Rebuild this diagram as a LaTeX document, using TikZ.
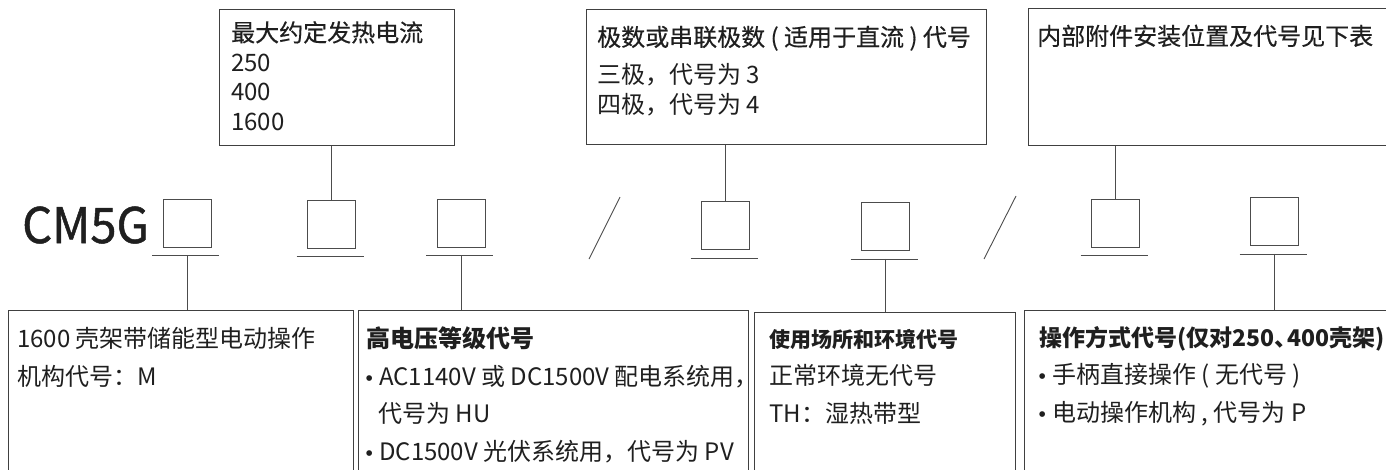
\documentclass[tikz,border=0pt]{standalone}
\usepackage{fontspec}
\setmainfont{Noto Sans CJK SC}
\newfontfamily\headfont{Noto Sans CJK SC}[FakeBold=0.4]
\newfontfamily\modelfont{Noto Sans CJK SC}[FakeStretch=0.96, FakeBold=1]
\newfontfamily\bulletfont{Liberation Sans}
\newcommand{\topfont}{\fontsize{24}{29.5}\selectfont}
\newcommand{\lowfont}{\fontsize{24}{37.5}\selectfont}
\newcommand{\dotitem}{\makebox[6pt][c]{\bulletfont\fontsize{21}{0}\selectfont•}\hspace{7pt}}

\tikzset{
  frame/.style={draw=black!75, line width=0.9pt, inner sep=0pt, anchor=north west},
  slot/.style={draw=black!70, line width=0.9pt, minimum width=48pt, minimum height=48pt, inner sep=0pt},
  txt/.style={inner sep=0pt, anchor=base west, align=left, text=black!88},
  link/.style={draw=black!70, line width=0.9pt},
}

\begin{document}
\begin{tikzpicture}[x=1pt,y=-1pt]
  \useasboundingbox (0,0) rectangle (1386,469);
  \clip (0,0) rectangle (1386,469);

  % upper boxes (text nodes sit on the baseline of their last line)
  \node[frame, minimum width=235, minimum height=136] (rated) at (219,9) {};
  \node[frame, minimum width=400, minimum height=135] (poles) at (586,9) {};
  \node[frame, minimum width=370, minimum height=137] (inner) at (1028,8) {};
  \node[txt, font=\topfont] (ratedtxt) at (231,130) {{\headfont 最大约定发热电流}\\250\\400\\1600};
  \node[txt, font=\topfont] (polestxt) at (597,113) {{\headfont 极数或串联极数 ( 适用于直流 ) 代号}\\[8pt]三极，代号为 3\\四极，代号为 4};
  \node[txt, font=\topfont] (innertxt) at (1037,45) {{\headfont 内部附件安装位置及代号见下表}};

  % model code
  \node[inner sep=0pt, anchor=base west, text=black!88, font=\modelfont\fontsize{49}{49}\selectfont] (model) at (22,243) {CM5G};
  \node[slot] (s1) at (187,223) {};
  \node[slot] (s2) at (331.5,224) {};
  \node[slot] (s3) at (461,223) {};
  \node[slot] (s4) at (725.5,225.5) {};
  \node[slot] (s5) at (885.5,226.5) {};
  \node[slot] (s6) at (1115.5,223) {};
  \node[slot] (s7) at (1274.5,221.5) {};
  \foreach \i in {1,...,7}{
    \coordinate (u\i) at ([yshift=-8pt]s\i.south);
    \draw[link] ([xshift=-35pt]u\i) -- ([xshift=32pt]u\i);
  }
  \draw[link] (620,197) -- (589,259);
  \draw[link] (1016,196) -- (984,259);

  % lower boxes
  \node[frame, minimum width=345, minimum height=200] (motor) at (8,310) {};
  \node[frame, minimum width=390, minimum height=200] (volt) at (358,310) {};
  \node[frame, minimum width=261, minimum height=200] (env) at (754,312) {};
  \node[frame, minimum width=380, minimum height=200] (oper) at (1024,310) {};
  \node[txt, font=\lowfont] (motortxt) at (17,385) {1600 壳架带储能型电动操作\\机构代号：M};
  \node[txt, font=\lowfont] (volttxt) at (366,460) {\textbf{高电压等级代号}\\\dotitem AC1140V 或 DC1500V 配电系统用，\\\hspace{12pt}代号为 HU\\\dotitem DC1500V 光伏系统用，代号为 PV};
  \node[txt, font=\lowfont] (envtxt) at (769,422) {{\fontsize{21}{37.5}\selectfont\bfseries 使用场所和环境代号}\\正常环境无代号\\TH：湿热带型};
  \node[txt, font=\lowfont] (opertxt) at (1039,421) {{\fontsize{23}{37.5}\selectfont\bfseries 操作方式代号(仅对250、\kern-10pt400壳架)}\\\dotitem 手柄直接操作 ( 无代号 )\\\dotitem 电动操作机构 , 代号为 P};

  % connectors
  \draw[link] (s2.north |- rated.south) -- (s2.north);
  \draw[link] (s4.north |- poles.south) -- (s4.north);
  \draw[link] (s6.north |- inner.south) -- (s6.north);
  \draw[link] (u1) -- (u1 |- motor.north);
  \draw[link] (u3) -- (u3 |- volt.north);
  \draw[link] (u5) -- (u5 |- env.north);
  \draw[link] (u7) -- (u7 |- oper.north);
\end{tikzpicture}
\end{document}
